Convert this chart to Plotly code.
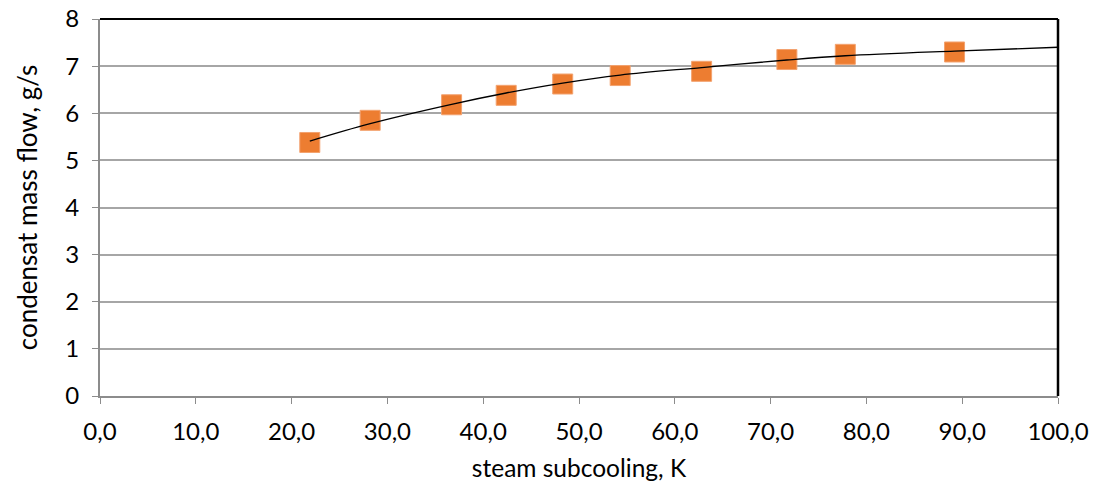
import plotly.graph_objects as go

subcooling = [21.9, 28.2, 36.7, 42.4, 48.3, 54.3, 62.8, 71.7, 77.8, 89.2]
mass_flow = [5.38, 5.85, 6.18, 6.38, 6.62, 6.80, 6.89, 7.14, 7.25, 7.30]

# Trend line points
trend_x = [21.9, 28.2, 36.7, 42.4, 48.3, 54.3, 62.8, 71.7, 77.8, 89.2, 100.0]
trend_y = [5.41, 5.78, 6.19, 6.43, 6.64, 6.81, 6.97, 7.13, 7.22, 7.32, 7.40]

x_ticks = [0, 10, 20, 30, 40, 50, 60, 70, 80, 90, 100]
y_ticks = [0, 1, 2, 3, 4, 5, 6, 7, 8]

FONT = "Lato"

fig = go.Figure()
fig.add_trace(go.Scatter(
    x=subcooling, y=mass_flow, mode="markers",
    marker=dict(symbol="square", size=20, color="#ED7D31",
                line=dict(width=1, color="#F3A26F")),
    showlegend=False, cliponaxis=False))
fig.add_trace(go.Scatter(
    x=trend_x, y=trend_y, mode="lines", line_shape="spline",
    line=dict(color="black", width=1.3), showlegend=False))

fig.update_layout(
    width=1096, height=482,
    margin=dict(l=100, r=38, t=19, b=86, autoexpand=False),
    paper_bgcolor="white", plot_bgcolor="white",
    separators=",.",
    font=dict(family=FONT, size=24, color="black"),
    xaxis=dict(range=[0, 100], tickvals=x_ticks, tickformat=".1f",
               automargin=False,
               showgrid=False, zeroline=False,
               showline=True, linecolor="#8C8C8C", linewidth=2,
               ticks="outside", ticklen=6, tickcolor="#8C8C8C", tickwidth=1,
               ticklabelstandoff=7,
               title=dict(text="steam subcooling, K", standoff=20,
                          font=dict(size=24.5)),
               tickfont=dict(size=24)),
    yaxis=dict(range=[0, 8], tickvals=y_ticks,
               automargin=False,
               showgrid=True, gridcolor="#A6A6A6", gridwidth=1.5,
               zeroline=False,
               showline=True, linecolor="#8C8C8C", linewidth=2,
               ticks="outside", ticklen=6, tickcolor="#8C8C8C", tickwidth=1,
               ticklabelstandoff=8,
               title=dict(text="condensat mass flow, g/s", standoff=20,
                          font=dict(size=26)),
               tickfont=dict(size=24)),
    shapes=[
        dict(type="line", xref="paper", yref="paper", x0=0, x1=1, y0=1, y1=1,
             line=dict(color="black", width=2)),
        dict(type="line", xref="paper", yref="paper", x0=1, x1=1, y0=0, y1=1,
             line=dict(color="black", width=2.5)),
    ],
)

fig.write_html(
    "out.html",
    config={"displayModeBar": False},
    post_script="document.body.style.margin='0';document.body.style.overflow='hidden';",
)
